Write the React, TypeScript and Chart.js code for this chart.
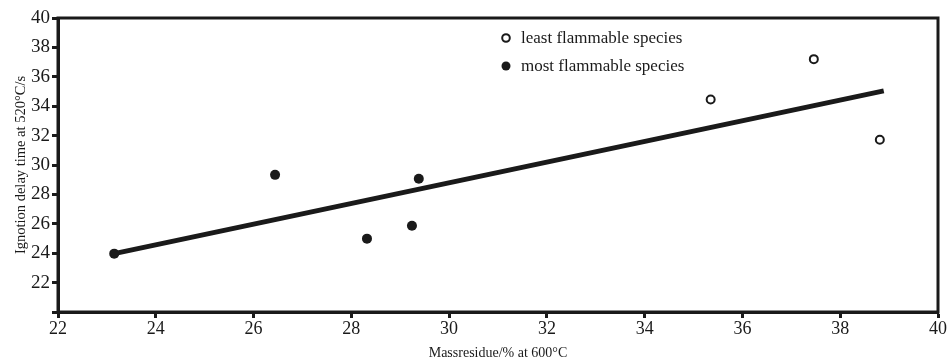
import React, { useEffect, useRef } from "react";
import { Chart, registerables } from "chart.js";

Chart.register(...registerables);

const leastX = [35.35, 37.46, 38.81];
const leastY = [34.45, 37.2, 31.72];
const mostX = [23.15, 26.44, 28.32, 29.24, 29.38];
const mostY = [23.97, 29.33, 24.99, 25.87, 29.06];
const fitX = [23.15, 38.89];
const fitY = [23.97, 35.04];
const xTicks = [22, 24, 26, 28, 30, 32, 34, 36, 38, 40];
const yTicks = [20, 22, 24, 26, 28, 30, 32, 34, 36, 38, 40];

const FONT = "'Liberation Serif', 'Times New Roman', serif";

const framePlugin = {
  id: "frame",
  afterDraw(chart: any) {
    const { ctx, chartArea } = chart;
    ctx.save();
    ctx.strokeStyle = "#1a1a1a";
    ctx.lineWidth = 3;
    ctx.strokeRect(chartArea.left, chartArea.top, chartArea.right - chartArea.left, chartArea.bottom - chartArea.top);
    ctx.restore();
  },
};

const legendPlugin = {
  id: "customLegend",
  afterDraw(chart: any) {
    const { ctx } = chart;
    const items = [
      { label: chart.data.datasets[0].label, filled: false },
      { label: chart.data.datasets[1].label, filled: true },
    ];
    ctx.save();
    ctx.font = `17px ${FONT}`;
    ctx.textBaseline = "middle";
    ctx.fillStyle = "#1a1a1a";
    items.forEach((it, i) => {
      const cx = 506;
      const cy = 38 + i * 28;
      ctx.beginPath();
      if (it.filled) {
        ctx.arc(cx, cy, 4.5, 0, Math.PI * 2);
        ctx.fill();
      } else {
        ctx.arc(cx, cy, 3.8, 0, Math.PI * 2);
        ctx.lineWidth = 2;
        ctx.strokeStyle = "#1a1a1a";
        ctx.stroke();
      }
      ctx.fillText(it.label, cx + 15, cy + 1);
    });
    ctx.restore();
  },
};

export default function App() {
  const ref = useRef<HTMLCanvasElement>(null);
  useEffect(() => {
    if (!ref.current) return;
    const chart = new Chart(ref.current, {
      type: "scatter",
      data: {
        datasets: [
          {
            label: "least flammable species",
            data: leastX.map((x, i) => ({ x, y: leastY[i] })),
            pointRadius: 4,
            pointBorderWidth: 2,
            pointBackgroundColor: "#ffffff",
            pointBorderColor: "#1a1a1a",
            order: 1,
          },
          {
            label: "most flammable species",
            data: mostX.map((x, i) => ({ x, y: mostY[i] })),
            pointRadius: 5,
            pointBorderWidth: 0,
            pointBackgroundColor: "#1a1a1a",
            pointBorderColor: "#1a1a1a",
            order: 1,
          },
          {
            type: "line",
            label: "fit",
            data: fitX.map((x, i) => ({ x, y: fitY[i] })),
            borderColor: "#1a1a1a",
            borderWidth: 5,
            pointRadius: 0,
            showLine: true,
            order: 2,
          } as any,
        ],
      },
      options: {
        animation: false,
        responsive: false,
        maintainAspectRatio: false,
        layout: { padding: { left: 12, right: 12, top: 18, bottom: 2 } },
        plugins: { legend: { display: false }, tooltip: { enabled: false } },
        scales: {
          x: {
            type: "linear",
            min: 22,
            max: 40,
            afterBuildTicks: (s: any) => {
              s.ticks = xTicks.map((v) => ({ value: v }));
            },
            afterFit: (s: any) => {
              s.height = 50;
              s.paddingLeft = 0;
              s.paddingRight = 0;
            },
            border: { display: true, color: "#1a1a1a", width: 3 },
            grid: { drawOnChartArea: false, drawTicks: true, tickLength: 6, tickWidth: 3, tickColor: "#1a1a1a" },
            ticks: { color: "#1a1a1a", font: { family: FONT, size: 18 }, padding: 0, maxRotation: 0 },
            title: { display: true, text: "Massresidue/% at 600°C", color: "#1a1a1a", font: { family: FONT, size: 14 }, padding: 0 },
          },
          y: {
            type: "linear",
            min: 20,
            max: 40,
            afterBuildTicks: (s: any) => {
              s.ticks = yTicks.map((v) => ({ value: v }));
            },
            afterFit: (s: any) => {
              s.width = 46;
              s.paddingTop = 0;
              s.paddingBottom = 0;
            },
            border: { display: true, color: "#1a1a1a", width: 3 },
            grid: { drawOnChartArea: false, drawTicks: true, tickLength: 6, tickWidth: 3, tickColor: "#1a1a1a" },
            ticks: {
              color: "#1a1a1a",
              font: { family: FONT, size: 19 },
              padding: 2,
              callback: (v: any) => (v === 20 ? "" : String(v)),
            },
            title: { display: true, text: "Ignotion delay time at 520°C/s", color: "#1a1a1a", font: { family: FONT, size: 14.5 }, padding: 0 },
          },
        },
      },
      plugins: [framePlugin, legendPlugin],
    });
    return () => chart.destroy();
  }, []);
  return (
    <div style={{ width: 950, height: 364 }}>
      <style>{`html,body{margin:0;padding:0;overflow:hidden;}`}</style>
      <canvas ref={ref} width={950} height={364} style={{ display: "block" }} />
    </div>
  );
}
